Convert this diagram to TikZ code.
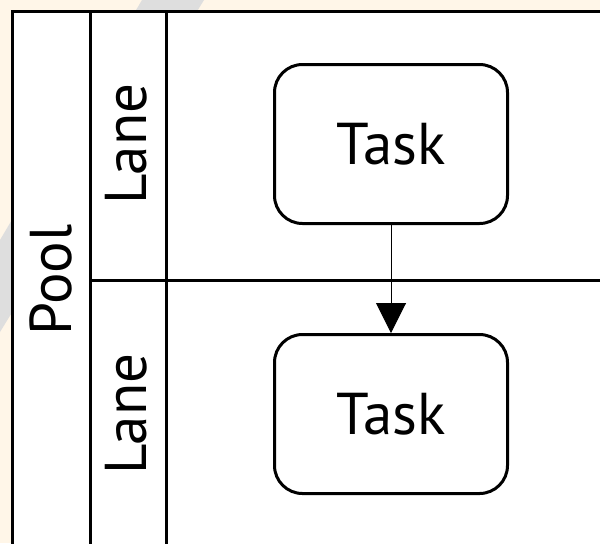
\documentclass[tikz,border=0pt]{standalone}
\usepackage{fontspec}
\setmainfont{PT Sans}
\usepackage{xcolor}
\usepackage{tikz}
\usetikzlibrary{arrows.meta}
\definecolor{bgbeige}{HTML}{FFF6E8}
\definecolor{bandgrey}{HTML}{DEDEDE}

\begin{document}
\begin{tikzpicture}[x=0.5pt,y=-0.5pt,
    frame/.style={line width=1.5pt},
    task/.style={draw,line width=1.5pt,rounded corners=14pt,minimum width=116.5pt,minimum height=79.5pt,font=\fontsize{29.5}{32}\selectfont},
    lanetext/.style={rotate=90,inner sep=0pt,font=\fontsize{29.5}{32}\selectfont}]
    \useasboundingbox (0,0) rectangle (600,543);
    \clip (0,0) rectangle (600,543);
    % background
    \fill[bgbeige] (0,0) rectangle (600,543);
    \fill[bandgrey] (142,0) -- (204,0) -- (0,332) -- (0,240) -- cycle;
    % pool and lanes
    \fill[white] (12,11) rectangle (620,560);
    \draw[frame] (12,560) -- (12,11) -- (620,11);
    \draw[frame] (90,11) -- (90,560);
    \draw[frame] (166,11) -- (166,560);
    \draw[frame] (90,280) -- (620,280);
    \node[lanetext] (pool) at (51,280) {Pool};
    \node[lanetext] (lane1) at (126,144) {Lane};
    \node[lanetext] (lane2) at (126,414) {Lane};
    % tasks
    \node[task] (task1) at (391,144) {Task};
    \node[task] (task2) at (391,414) {Task};
    \draw[-{Triangle[length=15pt,width=15pt]},line width=0.5pt] (task1) -- (task2);
\end{tikzpicture}
\end{document}
